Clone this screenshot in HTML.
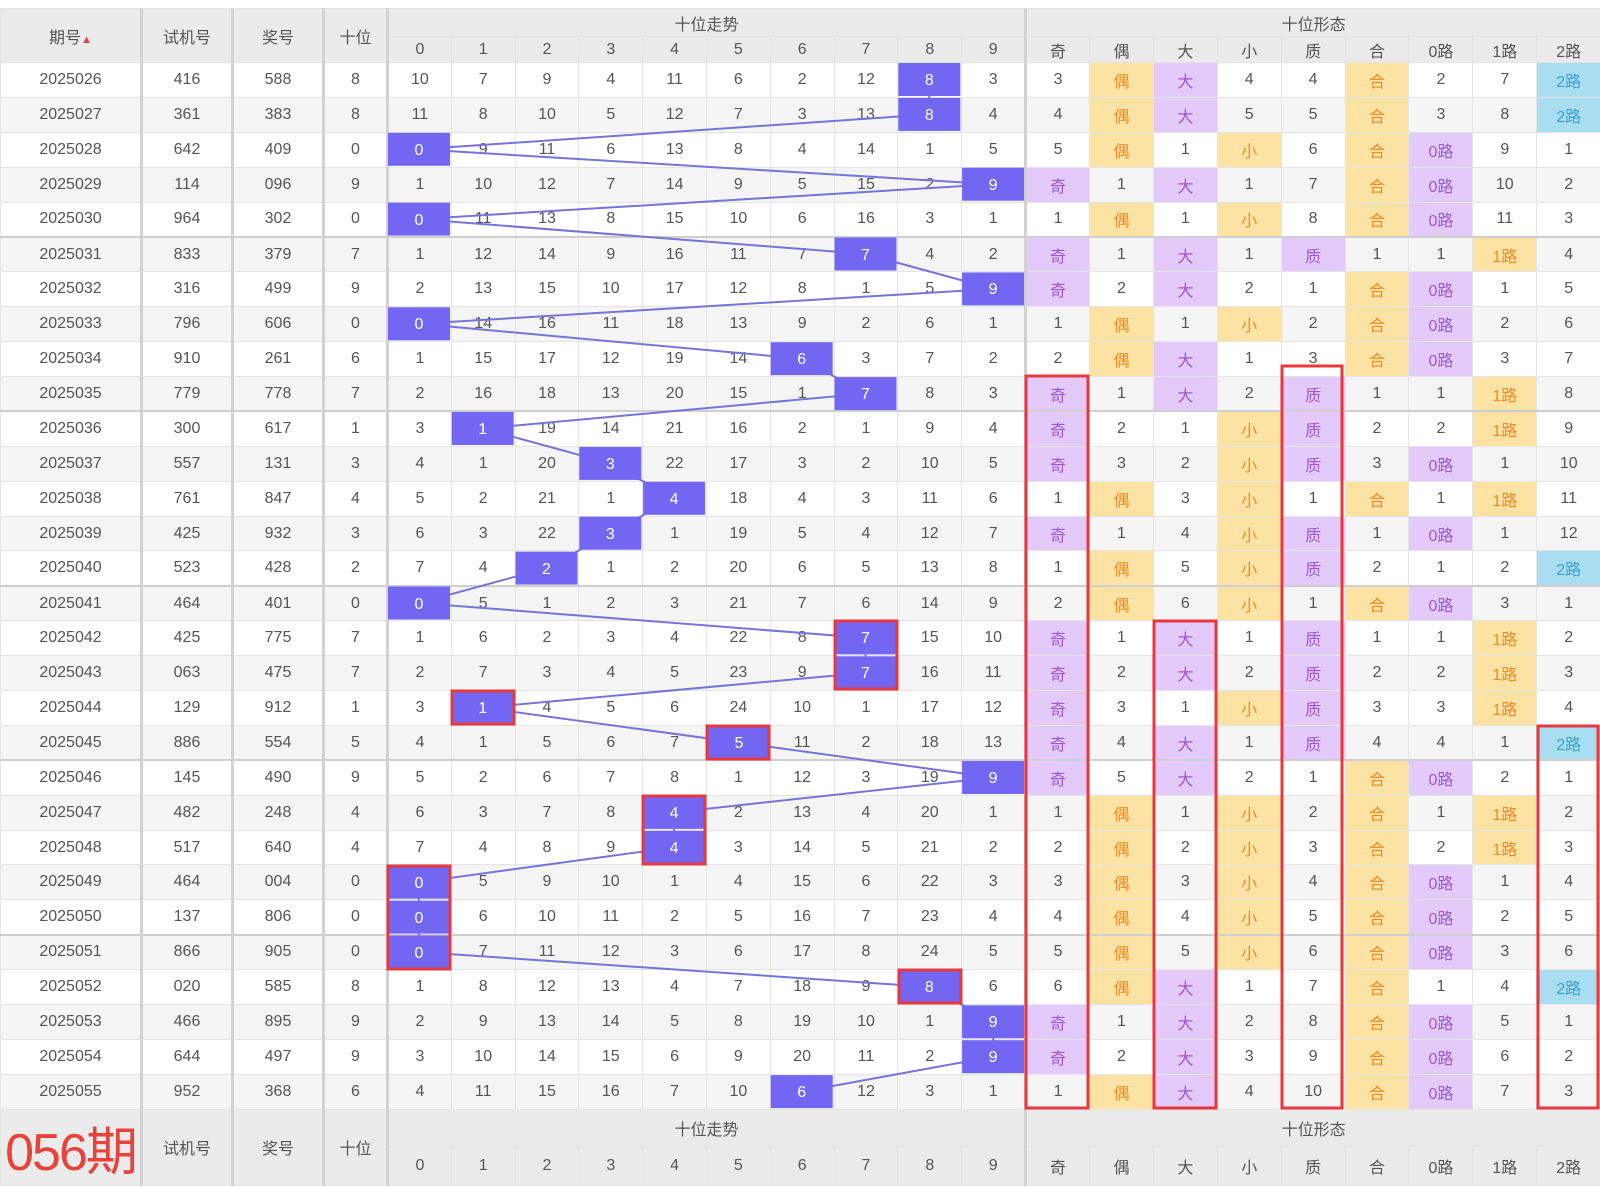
<!DOCTYPE html>
<html><head><meta charset="utf-8">
<style>
body{margin:0;width:1600px;height:1188px;background:#fff;position:relative;overflow:hidden;font-family:"Liberation Sans","Noto Sans CJK SC",sans-serif;}
table{position:absolute;left:0;top:8px;width:1600px;border-collapse:collapse;table-layout:fixed;color:#555;font-size:16px;}
td,th{border:1px solid #e4e4e4;text-align:center;padding:0;font-weight:normal;white-space:nowrap;overflow:hidden}
thead th,tfoot td{background:#ebebeb;color:#555}
.h1 th{height:27px}.h2 th{height:25px}
tbody tr{height:34.9px}
tbody tr:nth-child(even) td{background:#f5f5f5}
.s td{border-bottom:2px solid #cfcfcf}
.L{border-left:3px solid #d2d2d2}
td.o{background:#fde3a3!important;color:#f08a24}
td.p{background:#e3cafb!important;color:#9b59d0}
td.b{background:#a9def0!important;color:#3aa0d0}
.big{color:#e8433a;font-size:52px;letter-spacing:-2px}
</style></head><body>
<table>
<colgroup><col style="width:141px"><col style="width:91px"><col style="width:91px"><col style="width:64px">
<col style="width:63.8px"><col style="width:63.8px"><col style="width:63.8px"><col style="width:63.8px"><col style="width:63.8px"><col style="width:63.8px"><col style="width:63.8px"><col style="width:63.8px"><col style="width:63.8px"><col style="width:63.8px">
<col style="width:63.9px"><col style="width:63.9px"><col style="width:63.9px"><col style="width:63.9px"><col style="width:63.9px"><col style="width:63.9px"><col style="width:63.9px"><col style="width:63.9px"><col style="width:63.9px"></colgroup>
<thead>
<tr class="h1"><th rowspan="2">期号<span style="color:#e04040;font-size:11px">▲</span></th><th rowspan="2" class="L">试机号</th><th rowspan="2" class="L">奖号</th><th rowspan="2" class="L">十位</th><th colspan="10" class="L">十位走势</th><th colspan="9" class="L">十位形态</th></tr>
<tr class="h2"><th class="L">0</th><th>1</th><th>2</th><th>3</th><th>4</th><th>5</th><th>6</th><th>7</th><th>8</th><th>9</th><th class="L">奇</th><th>偶</th><th>大</th><th>小</th><th>质</th><th>合</th><th>0路</th><th>1路</th><th>2路</th></tr>
</thead>
<tbody>
<tr><td>2025026</td><td class="L">416</td><td class="L">588</td><td class="L">8</td><td class="L">10</td><td>7</td><td>9</td><td>4</td><td>11</td><td>6</td><td>2</td><td>12</td><td>8</td><td>3</td><td class="L">3</td><td class="o">偶</td><td class="p">大</td><td>4</td><td>4</td><td class="o">合</td><td>2</td><td>7</td><td class="b">2路</td></tr>
<tr><td>2025027</td><td class="L">361</td><td class="L">383</td><td class="L">8</td><td class="L">11</td><td>8</td><td>10</td><td>5</td><td>12</td><td>7</td><td>3</td><td>13</td><td>8</td><td>4</td><td class="L">4</td><td class="o">偶</td><td class="p">大</td><td>5</td><td>5</td><td class="o">合</td><td>3</td><td>8</td><td class="b">2路</td></tr>
<tr><td>2025028</td><td class="L">642</td><td class="L">409</td><td class="L">0</td><td class="L">0</td><td>9</td><td>11</td><td>6</td><td>13</td><td>8</td><td>4</td><td>14</td><td>1</td><td>5</td><td class="L">5</td><td class="o">偶</td><td>1</td><td class="o">小</td><td>6</td><td class="o">合</td><td class="p">0路</td><td>9</td><td>1</td></tr>
<tr><td>2025029</td><td class="L">114</td><td class="L">096</td><td class="L">9</td><td class="L">1</td><td>10</td><td>12</td><td>7</td><td>14</td><td>9</td><td>5</td><td>15</td><td>2</td><td>9</td><td class="L p">奇</td><td>1</td><td class="p">大</td><td>1</td><td>7</td><td class="o">合</td><td class="p">0路</td><td>10</td><td>2</td></tr>
<tr class="s"><td>2025030</td><td class="L">964</td><td class="L">302</td><td class="L">0</td><td class="L">0</td><td>11</td><td>13</td><td>8</td><td>15</td><td>10</td><td>6</td><td>16</td><td>3</td><td>1</td><td class="L">1</td><td class="o">偶</td><td>1</td><td class="o">小</td><td>8</td><td class="o">合</td><td class="p">0路</td><td>11</td><td>3</td></tr>
<tr><td>2025031</td><td class="L">833</td><td class="L">379</td><td class="L">7</td><td class="L">1</td><td>12</td><td>14</td><td>9</td><td>16</td><td>11</td><td>7</td><td>7</td><td>4</td><td>2</td><td class="L p">奇</td><td>1</td><td class="p">大</td><td>1</td><td class="p">质</td><td>1</td><td>1</td><td class="o">1路</td><td>4</td></tr>
<tr><td>2025032</td><td class="L">316</td><td class="L">499</td><td class="L">9</td><td class="L">2</td><td>13</td><td>15</td><td>10</td><td>17</td><td>12</td><td>8</td><td>1</td><td>5</td><td>9</td><td class="L p">奇</td><td>2</td><td class="p">大</td><td>2</td><td>1</td><td class="o">合</td><td class="p">0路</td><td>1</td><td>5</td></tr>
<tr><td>2025033</td><td class="L">796</td><td class="L">606</td><td class="L">0</td><td class="L">0</td><td>14</td><td>16</td><td>11</td><td>18</td><td>13</td><td>9</td><td>2</td><td>6</td><td>1</td><td class="L">1</td><td class="o">偶</td><td>1</td><td class="o">小</td><td>2</td><td class="o">合</td><td class="p">0路</td><td>2</td><td>6</td></tr>
<tr><td>2025034</td><td class="L">910</td><td class="L">261</td><td class="L">6</td><td class="L">1</td><td>15</td><td>17</td><td>12</td><td>19</td><td>14</td><td>6</td><td>3</td><td>7</td><td>2</td><td class="L">2</td><td class="o">偶</td><td class="p">大</td><td>1</td><td>3</td><td class="o">合</td><td class="p">0路</td><td>3</td><td>7</td></tr>
<tr class="s"><td>2025035</td><td class="L">779</td><td class="L">778</td><td class="L">7</td><td class="L">2</td><td>16</td><td>18</td><td>13</td><td>20</td><td>15</td><td>1</td><td>7</td><td>8</td><td>3</td><td class="L p">奇</td><td>1</td><td class="p">大</td><td>2</td><td class="p">质</td><td>1</td><td>1</td><td class="o">1路</td><td>8</td></tr>
<tr><td>2025036</td><td class="L">300</td><td class="L">617</td><td class="L">1</td><td class="L">3</td><td>1</td><td>19</td><td>14</td><td>21</td><td>16</td><td>2</td><td>1</td><td>9</td><td>4</td><td class="L p">奇</td><td>2</td><td>1</td><td class="o">小</td><td class="p">质</td><td>2</td><td>2</td><td class="o">1路</td><td>9</td></tr>
<tr><td>2025037</td><td class="L">557</td><td class="L">131</td><td class="L">3</td><td class="L">4</td><td>1</td><td>20</td><td>3</td><td>22</td><td>17</td><td>3</td><td>2</td><td>10</td><td>5</td><td class="L p">奇</td><td>3</td><td>2</td><td class="o">小</td><td class="p">质</td><td>3</td><td class="p">0路</td><td>1</td><td>10</td></tr>
<tr><td>2025038</td><td class="L">761</td><td class="L">847</td><td class="L">4</td><td class="L">5</td><td>2</td><td>21</td><td>1</td><td>4</td><td>18</td><td>4</td><td>3</td><td>11</td><td>6</td><td class="L">1</td><td class="o">偶</td><td>3</td><td class="o">小</td><td>1</td><td class="o">合</td><td>1</td><td class="o">1路</td><td>11</td></tr>
<tr><td>2025039</td><td class="L">425</td><td class="L">932</td><td class="L">3</td><td class="L">6</td><td>3</td><td>22</td><td>3</td><td>1</td><td>19</td><td>5</td><td>4</td><td>12</td><td>7</td><td class="L p">奇</td><td>1</td><td>4</td><td class="o">小</td><td class="p">质</td><td>1</td><td class="p">0路</td><td>1</td><td>12</td></tr>
<tr class="s"><td>2025040</td><td class="L">523</td><td class="L">428</td><td class="L">2</td><td class="L">7</td><td>4</td><td>2</td><td>1</td><td>2</td><td>20</td><td>6</td><td>5</td><td>13</td><td>8</td><td class="L">1</td><td class="o">偶</td><td>5</td><td class="o">小</td><td class="p">质</td><td>2</td><td>1</td><td>2</td><td class="b">2路</td></tr>
<tr><td>2025041</td><td class="L">464</td><td class="L">401</td><td class="L">0</td><td class="L">0</td><td>5</td><td>1</td><td>2</td><td>3</td><td>21</td><td>7</td><td>6</td><td>14</td><td>9</td><td class="L">2</td><td class="o">偶</td><td>6</td><td class="o">小</td><td>1</td><td class="o">合</td><td class="p">0路</td><td>3</td><td>1</td></tr>
<tr><td>2025042</td><td class="L">425</td><td class="L">775</td><td class="L">7</td><td class="L">1</td><td>6</td><td>2</td><td>3</td><td>4</td><td>22</td><td>8</td><td>7</td><td>15</td><td>10</td><td class="L p">奇</td><td>1</td><td class="p">大</td><td>1</td><td class="p">质</td><td>1</td><td>1</td><td class="o">1路</td><td>2</td></tr>
<tr><td>2025043</td><td class="L">063</td><td class="L">475</td><td class="L">7</td><td class="L">2</td><td>7</td><td>3</td><td>4</td><td>5</td><td>23</td><td>9</td><td>7</td><td>16</td><td>11</td><td class="L p">奇</td><td>2</td><td class="p">大</td><td>2</td><td class="p">质</td><td>2</td><td>2</td><td class="o">1路</td><td>3</td></tr>
<tr><td>2025044</td><td class="L">129</td><td class="L">912</td><td class="L">1</td><td class="L">3</td><td>1</td><td>4</td><td>5</td><td>6</td><td>24</td><td>10</td><td>1</td><td>17</td><td>12</td><td class="L p">奇</td><td>3</td><td>1</td><td class="o">小</td><td class="p">质</td><td>3</td><td>3</td><td class="o">1路</td><td>4</td></tr>
<tr class="s"><td>2025045</td><td class="L">886</td><td class="L">554</td><td class="L">5</td><td class="L">4</td><td>1</td><td>5</td><td>6</td><td>7</td><td>5</td><td>11</td><td>2</td><td>18</td><td>13</td><td class="L p">奇</td><td>4</td><td class="p">大</td><td>1</td><td class="p">质</td><td>4</td><td>4</td><td>1</td><td class="b">2路</td></tr>
<tr><td>2025046</td><td class="L">145</td><td class="L">490</td><td class="L">9</td><td class="L">5</td><td>2</td><td>6</td><td>7</td><td>8</td><td>1</td><td>12</td><td>3</td><td>19</td><td>9</td><td class="L p">奇</td><td>5</td><td class="p">大</td><td>2</td><td>1</td><td class="o">合</td><td class="p">0路</td><td>2</td><td>1</td></tr>
<tr><td>2025047</td><td class="L">482</td><td class="L">248</td><td class="L">4</td><td class="L">6</td><td>3</td><td>7</td><td>8</td><td>4</td><td>2</td><td>13</td><td>4</td><td>20</td><td>1</td><td class="L">1</td><td class="o">偶</td><td>1</td><td class="o">小</td><td>2</td><td class="o">合</td><td>1</td><td class="o">1路</td><td>2</td></tr>
<tr><td>2025048</td><td class="L">517</td><td class="L">640</td><td class="L">4</td><td class="L">7</td><td>4</td><td>8</td><td>9</td><td>4</td><td>3</td><td>14</td><td>5</td><td>21</td><td>2</td><td class="L">2</td><td class="o">偶</td><td>2</td><td class="o">小</td><td>3</td><td class="o">合</td><td>2</td><td class="o">1路</td><td>3</td></tr>
<tr><td>2025049</td><td class="L">464</td><td class="L">004</td><td class="L">0</td><td class="L">0</td><td>5</td><td>9</td><td>10</td><td>1</td><td>4</td><td>15</td><td>6</td><td>22</td><td>3</td><td class="L">3</td><td class="o">偶</td><td>3</td><td class="o">小</td><td>4</td><td class="o">合</td><td class="p">0路</td><td>1</td><td>4</td></tr>
<tr class="s"><td>2025050</td><td class="L">137</td><td class="L">806</td><td class="L">0</td><td class="L">0</td><td>6</td><td>10</td><td>11</td><td>2</td><td>5</td><td>16</td><td>7</td><td>23</td><td>4</td><td class="L">4</td><td class="o">偶</td><td>4</td><td class="o">小</td><td>5</td><td class="o">合</td><td class="p">0路</td><td>2</td><td>5</td></tr>
<tr><td>2025051</td><td class="L">866</td><td class="L">905</td><td class="L">0</td><td class="L">0</td><td>7</td><td>11</td><td>12</td><td>3</td><td>6</td><td>17</td><td>8</td><td>24</td><td>5</td><td class="L">5</td><td class="o">偶</td><td>5</td><td class="o">小</td><td>6</td><td class="o">合</td><td class="p">0路</td><td>3</td><td>6</td></tr>
<tr><td>2025052</td><td class="L">020</td><td class="L">585</td><td class="L">8</td><td class="L">1</td><td>8</td><td>12</td><td>13</td><td>4</td><td>7</td><td>18</td><td>9</td><td>8</td><td>6</td><td class="L">6</td><td class="o">偶</td><td class="p">大</td><td>1</td><td>7</td><td class="o">合</td><td>1</td><td>4</td><td class="b">2路</td></tr>
<tr><td>2025053</td><td class="L">466</td><td class="L">895</td><td class="L">9</td><td class="L">2</td><td>9</td><td>13</td><td>14</td><td>5</td><td>8</td><td>19</td><td>10</td><td>1</td><td>9</td><td class="L p">奇</td><td>1</td><td class="p">大</td><td>2</td><td>8</td><td class="o">合</td><td class="p">0路</td><td>5</td><td>1</td></tr>
<tr><td>2025054</td><td class="L">644</td><td class="L">497</td><td class="L">9</td><td class="L">3</td><td>10</td><td>14</td><td>15</td><td>6</td><td>9</td><td>20</td><td>11</td><td>2</td><td>9</td><td class="L p">奇</td><td>2</td><td class="p">大</td><td>3</td><td>9</td><td class="o">合</td><td class="p">0路</td><td>6</td><td>2</td></tr>
<tr><td>2025055</td><td class="L">952</td><td class="L">368</td><td class="L">6</td><td class="L">4</td><td>11</td><td>15</td><td>16</td><td>7</td><td>10</td><td>6</td><td>12</td><td>3</td><td>1</td><td class="L">1</td><td class="o">偶</td><td class="p">大</td><td>4</td><td>10</td><td class="o">合</td><td class="p">0路</td><td>7</td><td>3</td></tr>
</tbody>
<tfoot>
<tr style="height:36px"><td rowspan="2"><span class="big">056期</span></td><td rowspan="2" class="L">试机号</td><td rowspan="2" class="L">奖号</td><td rowspan="2" class="L">十位</td><td colspan="10" class="L">十位走势</td><td colspan="9" class="L">十位形态</td></tr>
<tr style="height:37px"><td class="L">0</td><td>1</td><td>2</td><td>3</td><td>4</td><td>5</td><td>6</td><td>7</td><td>8</td><td>9</td><td class="L">奇</td><td>偶</td><td>大</td><td>小</td><td>质</td><td>合</td><td>0路</td><td>1路</td><td>2路</td></tr>
</tfoot>
</table>
<svg width="1600" height="1188" style="position:absolute;left:0;top:0" font-family="Liberation Sans, sans-serif" font-size="16">
<polyline fill="none" stroke="#7b72d8" stroke-width="2" points="929.3,79.5 929.3,114.4 418.9,149.3 993.1,184.2 418.9,219.1 865.5,254 993.1,288.9 418.9,323.8 801.7,358.7 865.5,393.6 482.7,428.5 610.3,463.4 674.1,498.3 610.3,533.2 546.5,568.1 418.9,603 865.5,637.9 865.5,672.8 482.7,707.7 738.9,742.6 993.1,777.5 674.1,812.4 674.1,847.3 418.9,882.2 418.9,917.1 418.9,952 929.3,986.9 993.1,1021.8 993.1,1056.7 801.7,1091.6"/>
<g fill="#7366f2">
<rect x="898.3" y="63" width="62" height="33"/><rect x="898.3" y="97.9" width="62" height="33"/>
<rect x="388" y="132.8" width="62" height="33"/><rect x="962.1" y="167.7" width="62" height="33"/>
<rect x="388" y="202.6" width="62" height="33"/><rect x="834.5" y="237.5" width="62" height="33"/>
<rect x="962.1" y="272.4" width="62" height="33"/><rect x="388" y="307.3" width="62" height="33"/>
<rect x="770.7" y="342.2" width="62" height="33"/><rect x="834.5" y="377.1" width="62" height="33"/>
<rect x="451.7" y="412" width="62" height="33"/><rect x="579.3" y="446.9" width="62" height="33"/>
<rect x="643.1" y="481.8" width="62" height="33"/><rect x="579.3" y="516.7" width="62" height="33"/>
<rect x="515.5" y="551.6" width="62" height="33"/><rect x="388" y="586.5" width="62" height="33"/>
<rect x="834.5" y="621.4" width="62" height="33"/><rect x="834.5" y="656.3" width="62" height="33"/>
<rect x="451.7" y="691.2" width="62" height="33"/><rect x="707.9" y="726.1" width="62" height="33"/>
<rect x="962.1" y="761" width="62" height="33"/><rect x="643.1" y="795.9" width="62" height="33"/>
<rect x="643.1" y="830.8" width="62" height="33"/><rect x="388" y="865.7" width="62" height="33"/>
<rect x="388" y="900.6" width="62" height="33"/><rect x="388" y="935.5" width="62" height="33"/>
<rect x="898.3" y="970.4" width="62" height="33"/><rect x="962.1" y="1005.3" width="62" height="33"/>
<rect x="962.1" y="1040.2" width="62" height="33"/><rect x="770.7" y="1075.1" width="62" height="33"/>
</g>
<g fill="#fff" text-anchor="middle">
<text x="929.3" y="85">8</text><text x="929.3" y="120">8</text><text x="418.9" y="155">0</text><text x="993.1" y="190">9</text><text x="418.9" y="225">0</text><text x="865.5" y="260">7</text><text x="993.1" y="294">9</text><text x="418.9" y="329">0</text><text x="801.7" y="364">6</text><text x="865.5" y="399">7</text><text x="482.7" y="434">1</text><text x="610.3" y="469">3</text><text x="674.1" y="504">4</text><text x="610.3" y="539">3</text><text x="546.5" y="574">2</text><text x="418.9" y="609">0</text><text x="865.5" y="643">7</text><text x="865.5" y="678">7</text><text x="482.7" y="713">1</text><text x="738.9" y="748">5</text><text x="993.1" y="783">9</text><text x="674.1" y="818">4</text><text x="674.1" y="853">4</text><text x="418.9" y="888">0</text><text x="418.9" y="923">0</text><text x="418.9" y="958">0</text><text x="929.3" y="992">8</text><text x="993.1" y="1027">9</text><text x="993.1" y="1062">9</text><text x="801.7" y="1097">6</text>
</g>
<g fill="none" stroke="#e8383d" stroke-width="3">
<rect x="835" y="621" width="62" height="68"/><rect x="452" y="691" width="62" height="33"/>
<rect x="707" y="726" width="62" height="33"/><rect x="643" y="796" width="62" height="68"/>
<rect x="388" y="866" width="62" height="103"/><rect x="899" y="970" width="62" height="33"/>
<rect x="1026" y="376" width="62" height="732"/><rect x="1154" y="621" width="62" height="487"/>
<rect x="1282" y="366" width="60" height="742"/><rect x="1538" y="726" width="60" height="382"/>
</g>
</svg>
</body></html>
